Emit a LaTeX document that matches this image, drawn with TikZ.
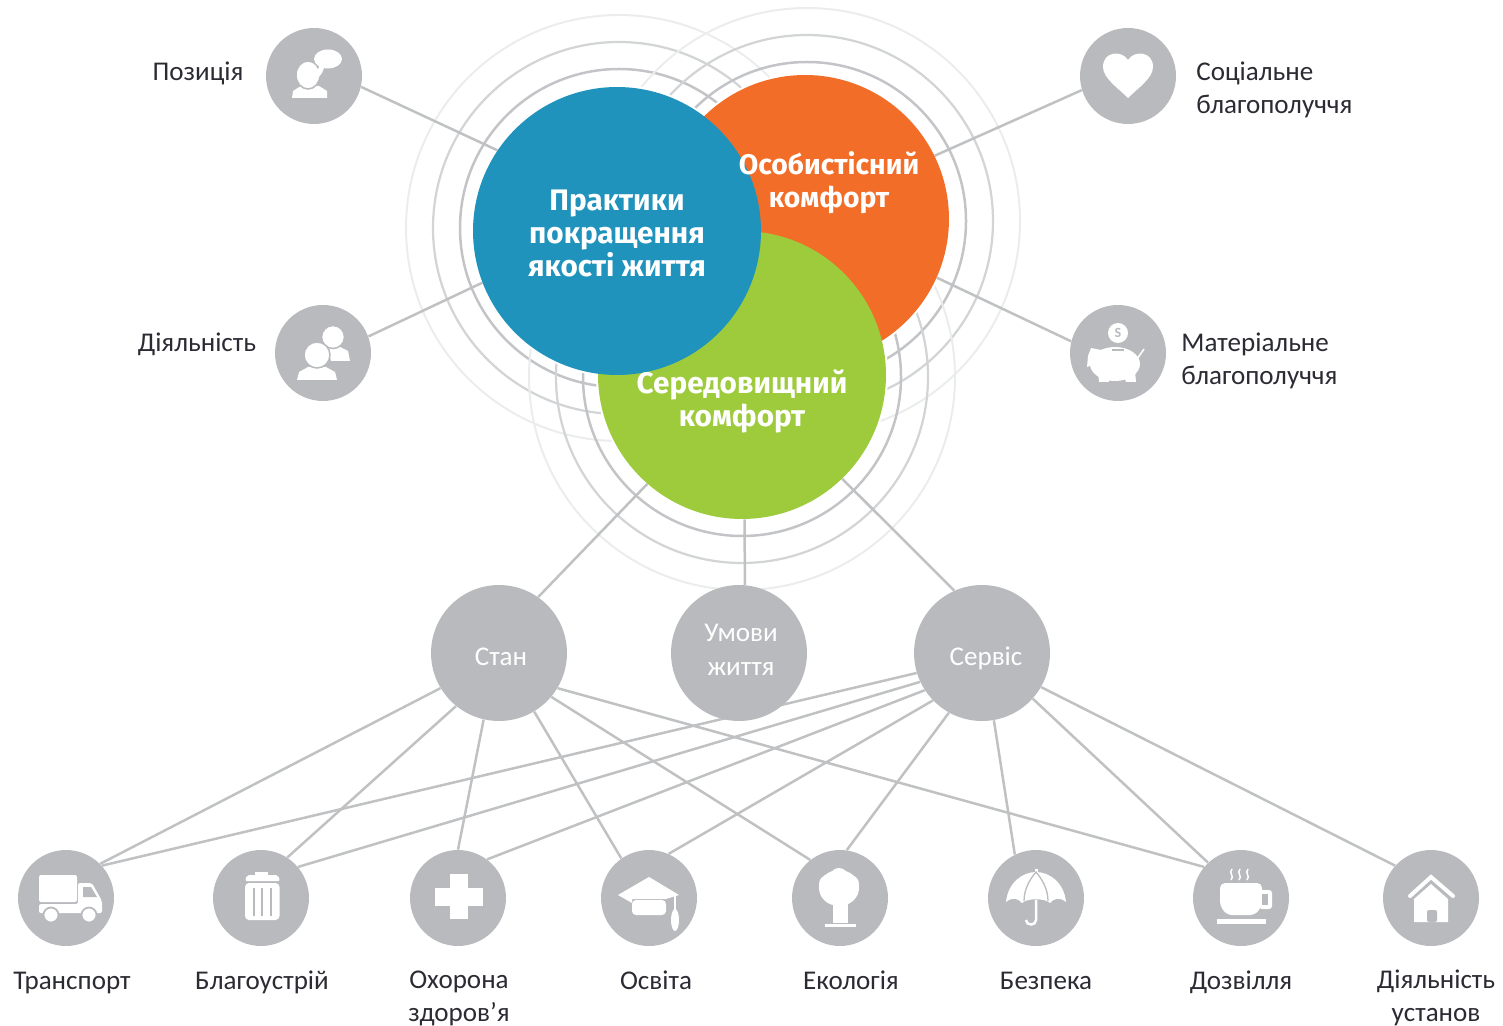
\documentclass[tikz,border=0pt]{standalone}
\usepackage{fontspec}
\setmainfont{Carlito}
\newfontfamily\headfont{Fira Sans}
\usetikzlibrary{backgrounds}
\definecolor{greyc}{HTML}{B9BABD}
\definecolor{ringa}{HTML}{C3C4C7}
\definecolor{ringb}{HTML}{D3D4D6}
\definecolor{ringc}{HTML}{EBECEC}
\definecolor{linec}{HTML}{C0C1C3}
\definecolor{textc}{HTML}{2B2B33}
\definecolor{bluec}{HTML}{1F93BC}
\definecolor{orangec}{HTML}{F26E28}
\definecolor{greenc}{HTML}{9DCB3C}
\tikzset{big/.style={circle,inner sep=0,minimum size=5.76cm}}
\tikzset{head/.style={text=white,align=center,font=\headfont\bfseries\fontsize{16.9}{19}\selectfont}}
\tikzset{mid/.style={circle,inner sep=0,minimum size=2.72cm,fill=greyc}}
\tikzset{midlab/.style={text=white,align=center,inner sep=0,font=\fontsize{15.4}{19.2}\selectfont}}
\tikzset{ico/.style={circle,inner sep=0,minimum size=1.92cm,fill=greyc}}
\tikzset{lab/.style={text=textc,align=center,inner sep=0,font=\fontsize{15.4}{18.8}\selectfont}}
\tikzset{labs/.style={lab,text height=0.42cm,text depth=0.06cm}}
\tikzset{ln/.style={linec,line width=0.05cm}}
\tikzset{ra/.style={ringa,line width=0.05cm}}
\tikzset{rb/.style={ringb,line width=0.045cm}}
\tikzset{rc/.style={ringc,line width=0.04cm}}
\tikzset{wh/.style={fill=white}}
\tikzset{gr/.style={fill=greyc}}

\begin{document}
\begin{tikzpicture}[x=0.02cm,y=-0.02cm]
\useasboundingbox (0,0) rectangle (1503,1026);

% three big discs
\node[big,fill=orangec] (pers) at (805,219) {};
\node[big,fill=greenc] (envir) at (742,375) {};
\node[big,fill=bluec] (pract) at (617,231) {};
\node[head] (practText) at (617,233.5) {Практики\\покращення\\якості життя};
\node[head,font=\headfont\bfseries\fontsize{16.1}{19}\selectfont] (persText) at (829,182.5) {Особистісний\\комфорт};
\node[head] (envirText) at (742,401.5) {Середовищний\\комфорт};

% ring centres
\coordinate (practRing) at (619,228);
\coordinate (persRing) at (807,221);
\coordinate (envirRing) at (742,377);

% middle row
\node[mid] (state) at (499,653) {};
\node[mid] (living) at (739,653) {};
\node[mid] (service) at (982,653) {};
\node[midlab] (stateText) at (501,657) {Стан};
\node[midlab] (livingText) at (741,650) {Умови\\життя};
\node[midlab] (serviceText) at (986,658) {Сервіс};

% upper icons
\node[ico] (pos) at (314,76) {};
\node[ico] (act) at (323,353) {};
\node[ico] (heart) at (1128,76) {};
\node[ico] (pig) at (1118,353) {};
\node[labs] (posText) at (198,72) {Позиція};
\node[labs] (actText) at (197,343) {Діяльність};
\node[lab,anchor=west,align=left] (heartText) at (1196,90) {Соціальне\\благополуччя};
\node[lab,anchor=west,align=left] (pigText) at (1181,361) {Матеріальне\\благополуччя};

% lower icons
\node[ico] (truck) at (66,898) {};
\node[ico] (bin) at (261,898) {};
\node[ico] (cross) at (458,898) {};
\node[ico] (cap) at (649,898) {};
\node[ico] (tree) at (840,898) {};
\node[ico] (umbr) at (1036,898) {};
\node[ico] (cup) at (1241,898) {};
\node[ico] (house) at (1431,898) {};
\node[labs] (truckText) at (72,980) {Транспорт};
\node[labs] (binText) at (262,980) {Благоустрій};
\node[lab] (crossText) at (459,998) {Охорона\\здоров’я};
\node[labs] (capText) at (656,980) {Освіта};
\node[labs] (treeText) at (851,980) {Екологія};
\node[labs] (umbrText) at (1046,980) {Безпека};
\node[labs] (cupText) at (1241,980) {Дозвілля};
\node[lab] (houseText) at (1436,998) {Діяльність\\установ};

\begin{pgfonlayer}{background}
\draw[rc] (practRing) circle (213);
\draw[rb] (practRing) circle (186);
\draw[ra] (practRing) circle (159);
\draw[rc] (persRing) circle (213);
\draw[rb] (persRing) circle (186);
\draw[ra] (persRing) circle (159);
\draw[rc] (envirRing) circle (213);
\draw[rb] (envirRing) circle (186);
\draw[ra] (envirRing) circle (159);

% white margin round the discs
\fill[white] (pers.center) circle (146);
\fill[white] (envir.center) circle (146);
\fill[white] (pract.center) circle (146);

\draw[ln] (pos.-13) -- (pract.146);
\draw[ln] (act.20) -- (pract.201);
\draw[ln] (heart.197) -- (pers.26);
\draw[ln] (pig.166) -- (pers.-24);
\draw[ln] (envir.229) -- (state.55);
\draw[ln] (envir.-89) -- (living.85);
\draw[ln] (envir.-46) -- (service.114);

\draw[ln] (state.211) -- (truck.45);
\draw[ln] (state.231) -- (bin.57);
\draw[ln] (state.257) -- (cross.90);
\draw[ln] (state.-59) -- (cap.125);
\draw[ln] (state.-40) -- (tree.128);
\draw[ln] (state.-31) -- (cup.140);

\draw[ln] (service.197) -- (truck.42);
\draw[ln] (service.205) -- (bin.40);
\draw[ln] (service.213) -- (cross.53);
\draw[ln] (service.224) -- (cap.66);
\draw[ln] (service.241) -- (tree.82);
\draw[ln] (service.-80) -- (umbr.116);
\draw[ln] (service.-42) -- (cup.133);
\draw[ln] (service.-30) -- (house.138);
\end{pgfonlayer}

% speech icon
\begin{scope}[shift={(pos.center)}]
\fill[wh] (-22,22) -- (-21,15) -- (-13,10) -- (5,10) -- (13,15) -- (13,22) -- cycle;
\draw[wh,draw=greyc,line width=0.03cm] (-6,-1) ellipse (12 and 14);
\fill[wh] (14,-17) ellipse (14 and 9.5);
\fill[wh] (6,-12) -- (10,-8) -- (8,-3) -- (5,1) -- (2,-1) -- cycle;
\end{scope}

% people icon
\begin{scope}[shift={(act.center)}]
\fill[wh] (8,8) -- (27,8) -- (25,-2) -- (17,-6) -- (5,-6) -- cycle;
\draw[wh,draw=greyc,line width=0.03cm] (10,-16) circle (11.5);
\fill[wh] (-26,27) -- (-24,19) -- (-15,14) -- (3,14) -- (12,19) -- (14,27) -- cycle;
\draw[wh,draw=greyc,line width=0.03cm] (-6,2) circle (13);
\end{scope}

% heart icon
\fill[wh,shift={(heart.center)}] (0,22) .. controls (-10,12) and (-25,2) .. (-25,-9) .. controls (-25,-25) and (-6,-26) .. (0,-16) .. controls (6,-26) and (25,-25) .. (25,-9) .. controls (25,2) and (10,12) .. (0,22) -- cycle;

% piggy icon
\begin{scope}[shift={(pig.center)}]
\fill[wh] (0,-20) circle (10);
\node[text=greyc,inner sep=0,font=\bfseries\fontsize{8}{8}\selectfont] (coin) at (0,-20) {S};
\fill[wh] (-3,11) ellipse (25 and 17);
\fill[wh] (-27,-5) -- (-17,-3) -- (-10,-4) -- (-14,8) -- (-31,14) -- (-30,3) -- cycle;
\fill[wh] (-20,18) -- (-8,20) -- (-9,29) -- (-19,29) -- cycle;
\fill[wh] (5,20) -- (17,18) -- (18,29) -- (8,29) -- cycle;
\draw[white,line width=0.03cm] (19,6) -- (26,-4);
\draw[greyc,line width=0.03cm] (-6,-3) -- (6,-3);
\end{scope}

% truck icon
\begin{scope}[shift={(truck.center)}]
\fill[wh,rounded corners=0.04cm] (-27,-23) rectangle (11,4);
\fill[wh,rounded corners=0.04cm] (-27,6) -- (12,6) -- (12,-15) -- (26,-15) -- (36,3) -- (36,15) -- (-27,15) -- cycle;
\fill[gr] (17,-11) -- (25,-11) -- (31,-1) -- (17,-1) -- cycle;
\draw[wh,draw=greyc,line width=0.035cm] (-15,17) circle (7.5);
\draw[wh,draw=greyc,line width=0.035cm] (23,17) circle (7.5);
\end{scope}

% bin icon
\begin{scope}[shift={(bin.center)}]
\fill[wh] (-6,-26) rectangle (7,-23);
\fill[wh,rounded corners=0.04cm] (-16,-17) -- (-14,-23) -- (17,-23) -- (19,-17) -- cycle;
\fill[wh,rounded corners=0.08cm] (-16,-15) rectangle (18.5,22);
\fill[gr] (-8,-10) rectangle (-6,18);
\fill[gr] (0,-10) rectangle (2,18);
\fill[gr] (9,-10) rectangle (11,18);
\end{scope}

% cross icon
\begin{scope}[shift={(cross.center)}]
\fill[wh] (-8,-24) rectangle (10,21);
\fill[wh] (-23,-10) rectangle (25,8);
\end{scope}

% cap icon
\begin{scope}[shift={(cap.center)}]
\fill[wh] (-31,-3) -- (0,-21) -- (30,-3) -- (17,1) -- (-17,1) -- (-17,5) -- cycle;
\fill[wh,rounded corners=0.08cm] (-17,2) rectangle (17,17);
\draw[white,line width=0.03cm] (26,-3) -- (26,12);
\fill[wh] (26,22) ellipse (4 and 11);
\end{scope}

% tree icon
\begin{scope}[shift={(tree.center)}]
\fill[wh] (-1,-10) ellipse (20 and 18);
\fill[wh] (-1,-21) circle (9);
\fill[wh] (-12,-14) circle (9);
\fill[wh] (10,-14) circle (9);
\fill[wh] (-7,5) -- (8,5) -- (8,25) -- (-7,25) -- cycle;
\fill[wh] (-15,26) rectangle (16,28.5);
\end{scope}

% umbrella icon
\begin{scope}[shift={(umbr.center)}]
\fill[wh] (-30,4) .. controls (-28,-16) and (-13,-26) .. (0,-26) .. controls (13,-26) and (28,-16) .. (30,4) .. controls (24,-1) and (18,0) .. (14,5) .. controls (9,0) and (-9,0) .. (-14,5) .. controls (-18,0) and (-24,-1) .. (-30,4) -- cycle;
\fill[wh] (-1.5,-29) rectangle (1.5,-25);
\draw[greyc,line width=0.025cm] (-12,3) .. controls (-12,-10) and (-5,-20) .. (0,-26) .. controls (5,-20) and (12,-10) .. (12,3);
\draw[white,line width=0.05cm] (0,2) -- (0,22) .. controls (0,28) and (-10,28) .. (-10,22);
\end{scope}

% cup icon
\begin{scope}[shift={(cup.center)}]
\fill[wh,rounded corners=0.1cm] (-21,-15) -- (21,-15) -- (21,8) -- (14,17) -- (-14,17) -- (-21,8) -- cycle;
\fill[wh,rounded corners=0.06cm] (18,-8) rectangle (31,11);
\fill[gr] (21,-4) rectangle (27,7);
\fill[wh] (-24,21) rectangle (25,26);
\draw[white,line width=0.03cm] (-10,-18) .. controls (-6,-22) and (-13,-25) .. (-9,-29);
\draw[white,line width=0.03cm] (-2,-18) .. controls (2,-22) and (-5,-25) .. (-1,-29);
\draw[white,line width=0.03cm] (6,-18) .. controls (10,-22) and (3,-25) .. (7,-29);
\end{scope}

% house icon
\begin{scope}[shift={(house.center)}]
\draw[white,line width=0.08cm,line cap=round] (-21,-2) -- (0,-21) -- (22,-2);
\fill[wh] (0,-14) -- (17,1) -- (17,24) -- (-17,24) -- (-17,1) -- cycle;
\fill[gr,rounded corners=0.04cm] (-4,24) -- (-4,12) -- (6,12) -- (6,24) -- cycle;
\end{scope}
\end{tikzpicture}
\end{document}
